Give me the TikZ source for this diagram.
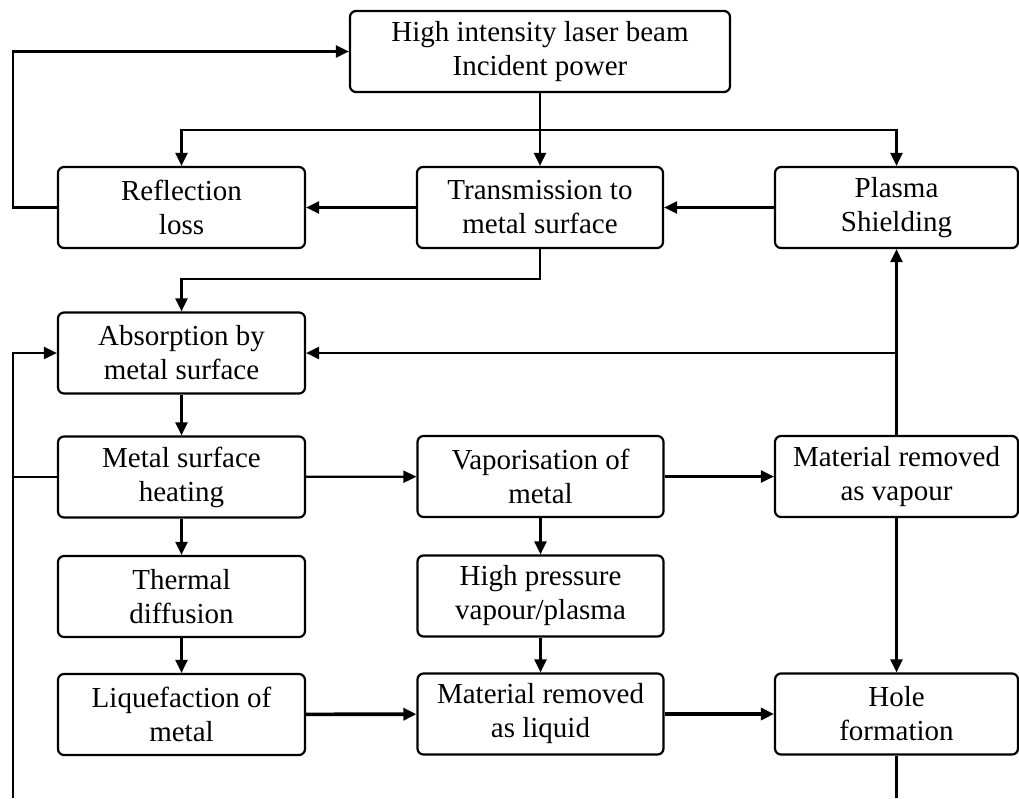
\documentclass[tikz,border=0pt]{standalone}
\usepackage{fontspec}
\setmainfont{Liberation Serif}
\usetikzlibrary{arrows.meta}
\begin{document}
\begin{tikzpicture}[x=1pt,y=-1pt,
    box/.style={draw,line width=2.2pt,rounded corners=6pt,minimum height=81pt,inner sep=0pt,align=center,font=\fontsize{29}{34}\selectfont},
    leftbox/.style={box,minimum width=247pt},
    midbox/.style={box,minimum width=246pt},
    rightbox/.style={box,minimum width=243pt},
    arr/.style={line width=2.2pt,-{Triangle[length=13pt,width=12pt]}},
    thickarr/.style={arr,line width=3.6pt},
    wire/.style={line width=2.2pt}]
    \useasboundingbox (0,0) rectangle (1019,798);
    % boxes
    \node[box,minimum width=380pt] (laser) at (540,51.5) {High intensity laser beam\\Incident power};
    \node[leftbox] (refl) at (181.5,207.5) {Reflection\\loss};
    \node[midbox] (trans) at (540,207.5) {Transmission to\\metal surface};
    \node[rightbox] (plasma) at (896.5,207.5) {Plasma\\Shielding};
    \node[leftbox] (absorb) at (181.5,353) {Absorption by\\metal surface};
    \node[leftbox] (heat) at (181.5,477) {Metal surface\\heating};
    \node[midbox] (vapor) at (540.5,476.5) {Vaporisation of\\metal};
    \node[rightbox] (remvap) at (896.5,476.5) {Material removed\\as vapour};
    \node[leftbox] (thermal) at (181.5,596.5) {Thermal\\diffusion};
    \node[midbox] (hpress) at (540.5,596) {High pressure\\vapour/plasma};
    \node[leftbox] (liquef) at (181.5,714.5) {Liquefaction of\\metal};
    \node[midbox] (remliq) at (540.5,714) {Material removed\\as liquid};
    \node[rightbox] (hole) at (896.5,714) {Hole\\formation};
    % helper points
    \coordinate (split) at (540,130);
    \coordinate (branch) at (896.5,353);
    \coordinate (leftend) at (13,798);
    \coordinate (holeend) at (896.5,798);
    % connectors
    \draw[arr] (laser) -- (trans);
    \draw[arr] (split) -| (refl.north);
    \draw[arr] (split) -| (plasma.north);
    \draw[arr] (plasma) -- (trans);
    \draw[arr] (trans) -- (refl);
    \draw[arr] (refl.west) -- (13,207.5) |- (laser.west);
    \draw[arr] (trans.south) -- ++(0,30) -| (absorb.north);
    \draw[arr] (absorb) -- (heat);
    \draw[arr] (heat) -- (thermal);
    \draw[arr] (thermal) -- (liquef);
    \draw[arr] (heat) -- (vapor);
    \draw[arr] (vapor) -- (remvap);
    \draw[arr] (vapor) -- (hpress);
    \draw[arr] (hpress) -- (remliq);
    \draw[thickarr] (liquef) -- (remliq);
    \draw[thickarr] (remliq) -- (hole);
    \draw[arr] (remvap) -- (plasma);
    \draw[arr] (branch) -- (absorb.east);
    \draw[arr] (remvap) -- (hole);
    \draw[wire] (hole.south) -- (holeend);
    \draw[arr] (leftend) |- (absorb.west);
    \draw[wire] (heat.west) -- (heat.west -| leftend);
\end{tikzpicture}
\end{document}
